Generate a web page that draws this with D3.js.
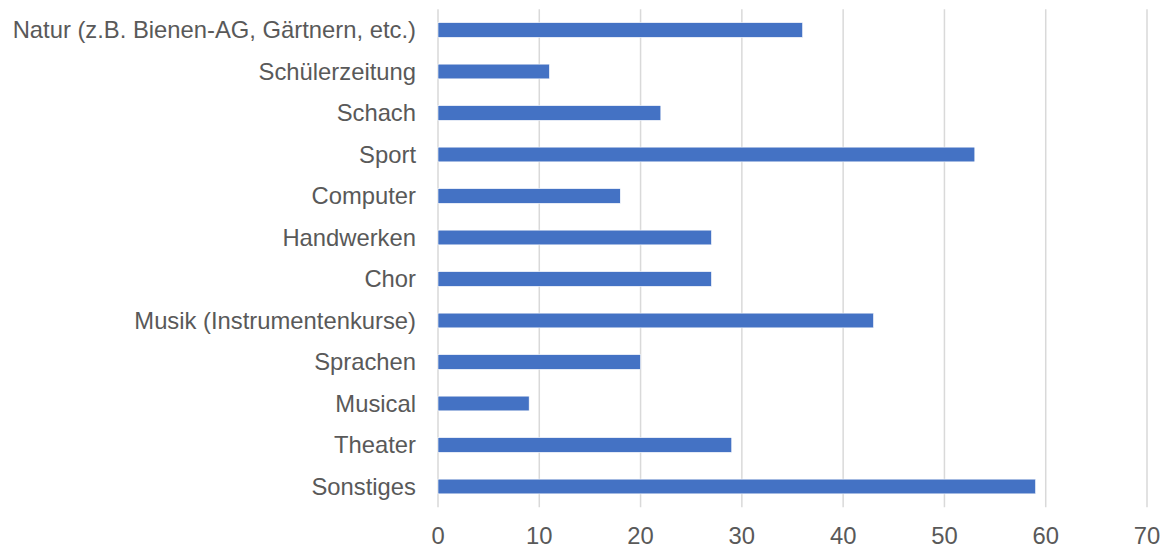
<!DOCTYPE html>
<html><head><meta charset="utf-8">
<script src="https://cdn.jsdelivr.net/npm/d3@7"></script>
<style>body{margin:0;background:#fff}svg{display:block}</style>
</head><body>
<svg id="c" width="1164" height="548"></svg>
<script>
const categories = ["Natur (z.B. Bienen-AG, Gärtnern, etc.)","Schülerzeitung","Schach","Sport","Computer","Handwerken","Chor","Musik (Instrumentenkurse)","Sprachen","Musical","Theater","Sonstiges"];
const values = [36,11,22,53,18,27,27,43,20,9,29,59];
const xTicks = [0,10,20,30,40,50,60,70];

const svg = d3.select("#c");
const pL = 438, pR = 1147, pT = 9.25, pB = 507.25;
const x = d3.scaleLinear().domain([0,70]).range([pL,pR]);
const y = d3.scaleBand().domain(categories).range([pT,pB]).paddingInner(0.645).paddingOuter(0.3225);

svg.append("g").selectAll("line").data(xTicks).join("line")
  .attr("x1",d=>x(d)).attr("x2",d=>x(d)).attr("y1",pT).attr("y2",pB)
  .attr("stroke","#d9d9d9").attr("stroke-width",1.5);

svg.append("g").selectAll("rect").data(values).join("rect")
  .attr("x",x(0)).attr("y",(d,i)=>y(categories[i]))
  .attr("width",d=>x(d)-x(0)).attr("height",y.bandwidth())
  .attr("fill","#4472C4").attr("stroke","#fff").attr("stroke-width",0.6);

const font = "'Liberation Sans', Arial, sans-serif";
svg.append("g").selectAll("text").data(categories).join("text")
  .attr("x",pL-22).attr("y",d=>y(d)+y.bandwidth()/2).attr("dy","0.35em")
  .attr("text-anchor","end").attr("font-family",font).attr("font-size",23.8)
  .attr("fill","#595959").text(d=>d);

svg.append("g").selectAll("text").data(xTicks).join("text")
  .attr("x",d=>x(d)).attr("y",536).attr("dy","0.35em")
  .attr("text-anchor","middle").attr("font-family",font).attr("font-size",23.8)
  .attr("fill","#595959").text(d=>d);
</script>
</body></html>
